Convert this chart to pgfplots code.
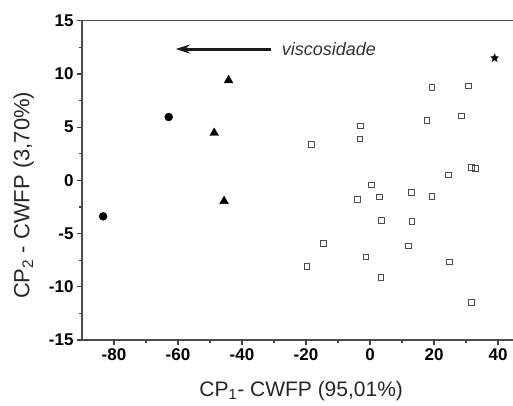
\documentclass[border=0pt]{standalone}
\usepackage{fontspec}
\setmainfont{Liberation Sans}
\usepackage{pgfplots}
\pgfplotsset{compat=1.18}
\usetikzlibrary{arrows.meta}
% filled five-point star
\pgfdeclareplotmark{fstar}{%
  \pgfpathmoveto{\pgfpointpolar{90}{\pgfplotmarksize}}%
  \pgfpathlineto{\pgfpointpolar{126}{0.42\pgfplotmarksize}}%
  \pgfpathlineto{\pgfpointpolar{162}{\pgfplotmarksize}}%
  \pgfpathlineto{\pgfpointpolar{198}{0.42\pgfplotmarksize}}%
  \pgfpathlineto{\pgfpointpolar{234}{\pgfplotmarksize}}%
  \pgfpathlineto{\pgfpointpolar{270}{0.42\pgfplotmarksize}}%
  \pgfpathlineto{\pgfpointpolar{306}{\pgfplotmarksize}}%
  \pgfpathlineto{\pgfpointpolar{342}{0.42\pgfplotmarksize}}%
  \pgfpathlineto{\pgfpointpolar{18}{\pgfplotmarksize}}%
  \pgfpathlineto{\pgfpointpolar{54}{0.42\pgfplotmarksize}}%
  \pgfpathclose
  \pgfusepathqfillstroke
}
\begin{document}
\begin{tikzpicture}
\begin{axis}[
    name=ax,
    at={(0,0)}, anchor=south west,
    scale only axis,
    width=438.4pt, height=319.3pt,
    xmin=-90, xmax=47,
    ymin=-15, ymax=15,
    xtick={-80,-60,...,40},
    ytick={-15,-10,...,15},
    minor x tick num=1,
    minor y tick num=1,
    tick align=outside,
    xtick pos=left, ytick pos=left,
    major tick length=5pt,
    minor tick length=3pt,
    axis line style={black!70, line width=1.4pt},
    every tick/.style={black!75, line width=1.2pt},
    xticklabel={\textbf{\pgfmathprintnumber{\tick}}},
    yticklabel={\textbf{\pgfmathprintnumber{\tick}}},
    tick label style={font=\fontsize{17}{19}\selectfont\bfseries},
    /pgf/number format/assume math mode=true,
    xlabel={CP\textsubscript{1}- CWFP (95,01\%)},
    ylabel={CP\textsubscript{2} - CWFP (3,70\%)},
    xlabel style={font=\fontsize{21}{24}\selectfont, black!85, yshift=-14pt},
    ylabel style={font=\fontsize{22}{24}\selectfont, black!85,
                  yshift=8pt, xshift=-15pt},
    clip=false,
]
% amostras (quadrados abertos)
\addplot[only marks, mark=square, mark size=2.8pt,
         mark options={draw=black!70, line width=1pt}] coordinates {
    (-18.2,3.38) (-2.9,5.10) (-3.1,3.88) (0.45,-0.44) (-4.0,-1.82)
    (3.0,-1.57) (3.5,-3.76) (-14.5,-5.92) (-19.7,-8.11) (-1.2,-7.20)
    (3.4,-9.14) (12.9,-1.13) (13.1,-3.88) (12.1,-6.17) (19.4,8.71)
    (17.8,5.61) (19.4,-1.50) (24.6,0.50) (24.9,-7.67) (30.8,8.86)
    (28.6,6.04) (31.8,1.19) (33.0,1.10) (31.8,-11.49)
};
% circulos
\addplot[only marks, mark=*, mark size=4pt, black] coordinates {
    (-62.9,5.95) (-83.4,-3.38)
};
% triangulos
\addplot[only marks, mark=triangle*, mark size=5pt, black] coordinates {
    (-44.2,9.40) (-48.7,4.45) (-45.6,-1.95)
};
% estrela
\addplot[only marks, mark=fstar, mark size=4.2pt, black,
         mark options={line width=0.4pt}] coordinates {
    (38.95,11.49)
};
\draw[-{Stealth[length=14pt,width=9pt]}, line width=3pt, black!90]
    (axis cs:-31,12.34) -- (axis cs:-60.7,12.34);
\node[anchor=west, font=\fontsize{18}{20}\selectfont\itshape, black!80,
      inner sep=0pt] at (axis cs:-27.6,12.34) {viscosidade};
\end{axis}
\pgfresetboundingbox
\path (ax.south west) ++(-82pt,-65pt) rectangle ++(513pt,405pt);
\end{tikzpicture}
\end{document}
